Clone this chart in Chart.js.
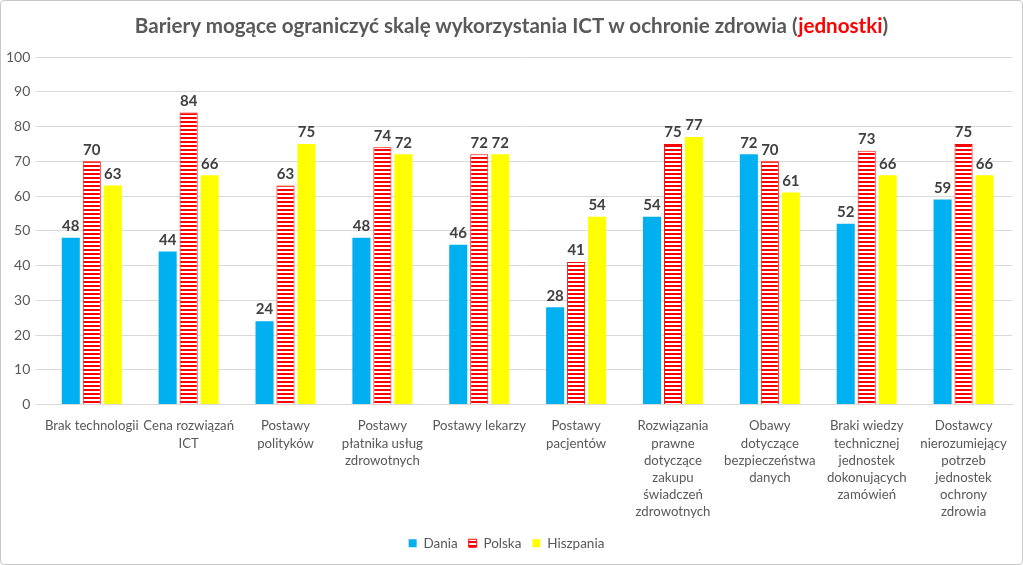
<!DOCTYPE html>
<html>
<head>
<meta charset="utf-8">
<script src="https://cdn.jsdelivr.net/npm/chart.js@4"></script>
<style>
  html, body { margin: 0; padding: 0; background: #fff; }
  #wrap { position: relative; width: 1021px; height: 563px; border: 1px solid #c8c8c8; border-radius: 4px; }
  #title { position: absolute; top: 12px; left: 0; width: 100%; text-align: center;
           font: bold 20.6px Lato, "Open Sans", sans-serif; color: #595959; }
  #title span { color: #ff0000; }
</style>
</head>
<body>
<div id="wrap">
  <div id="title">Bariery mogące ograniczyć skalę wykorzystania ICT w ochronie zdrowia (<span>jednostki</span>)</div>
  <canvas id="myChart" width="1021" height="563"></canvas>
</div>
<script>
const categories = [
  "Brak technologii",
  ["Cena rozwiązań", "ICT"],
  ["Postawy", "polityków"],
  ["Postawy", "płatnika usług", "zdrowotnych"],
  "Postawy lekarzy",
  ["Postawy", "pacjentów"],
  ["Rozwiązania", "prawne", "dotyczące", "zakupu", "świadczeń", "zdrowotnych"],
  ["Obawy", "dotyczące", "bezpieczeństwa", "danych"],
  ["Braki wiedzy", "technicznej", "jednostek", "dokonujących", "zamówień"],
  ["Dostawcy", "nierozumiejący", "potrzeb", "jednostek", "ochrony", "zdrowia"]
];
const dania = [48, 44, 24, 48, 46, 28, 54, 72, 52, 59];
const polska = [70, 84, 63, 74, 72, 41, 75, 70, 73, 75];
const hiszpania = [63, 66, 75, 72, 72, 54, 77, 61, 66, 66];

// red horizontal stripes for Polska
function stripes() {
  const c = document.createElement("canvas");
  c.width = 4; c.height = 4;
  const g = c.getContext("2d");
  g.fillStyle = "#ffffff";
  g.fillRect(0, 0, 4, 4);
  g.fillStyle = "#ff0000";
  g.fillRect(0, 0, 4, 2);
  return g.createPattern(c, "repeat");
}

const valueLabels = {
  id: "valueLabels",
  afterDatasetsDraw(chart) {
    const ctx = chart.ctx;
    ctx.save();
    ctx.font = "bold 15px Lato, 'Open Sans', sans-serif";
    ctx.fillStyle = "#404040";
    ctx.textAlign = "center";
    ctx.textBaseline = "bottom";
    chart.data.datasets.forEach((ds, i) => {
      chart.getDatasetMeta(i).data.forEach((bar, j) => {
        ctx.fillText(ds.data[j], bar.x, bar.y - 4);
      });
    });
    ctx.restore();
  }
};

const family = "Lato, 'Open Sans', sans-serif";
const ctx = document.getElementById("myChart");

new Chart(ctx, {
  type: "bar",
  data: {
    labels: categories,
    datasets: [
      { label: "Dania", data: dania, backgroundColor: "#00b0f0" },
      { label: "Polska", data: polska, backgroundColor: stripes(), borderColor: "#ff0000", borderWidth: 1 },
      { label: "Hiszpania", data: hiszpania, backgroundColor: "#ffff00" }
    ]
  },
  options: {
    responsive: false,
    animation: false,
    categoryPercentage: 0.65,
    barPercentage: 0.86,
    layout: { padding: { top: 56, left: 0, right: 10, bottom: 4 } },
    scales: {
      x: {
        grid: { display: false },
        border: { color: "#d9d9d9" },
        ticks: {
          autoSkip: false, maxRotation: 0, color: "#595959", padding: 5,
          font: { family: family, size: 13.2, lineHeight: 1.3 }
        }
      },
      y: {
        min: 0, max: 100,
        grid: { color: "#d9d9d9" },
        border: { display: false },
        ticks: { stepSize: 10, color: "#595959", padding: 5, font: { family: family, size: 14 } }
      }
    },
    plugins: {
      legend: {
        position: "bottom",
        labels: { boxWidth: 8, boxHeight: 8, color: "#595959", padding: 11, font: { family: family, size: 13.5 } }
      },
      title: { display: false },
      tooltip: { enabled: false }
    }
  },
  plugins: [valueLabels]
});
</script>
</body>
</html>
